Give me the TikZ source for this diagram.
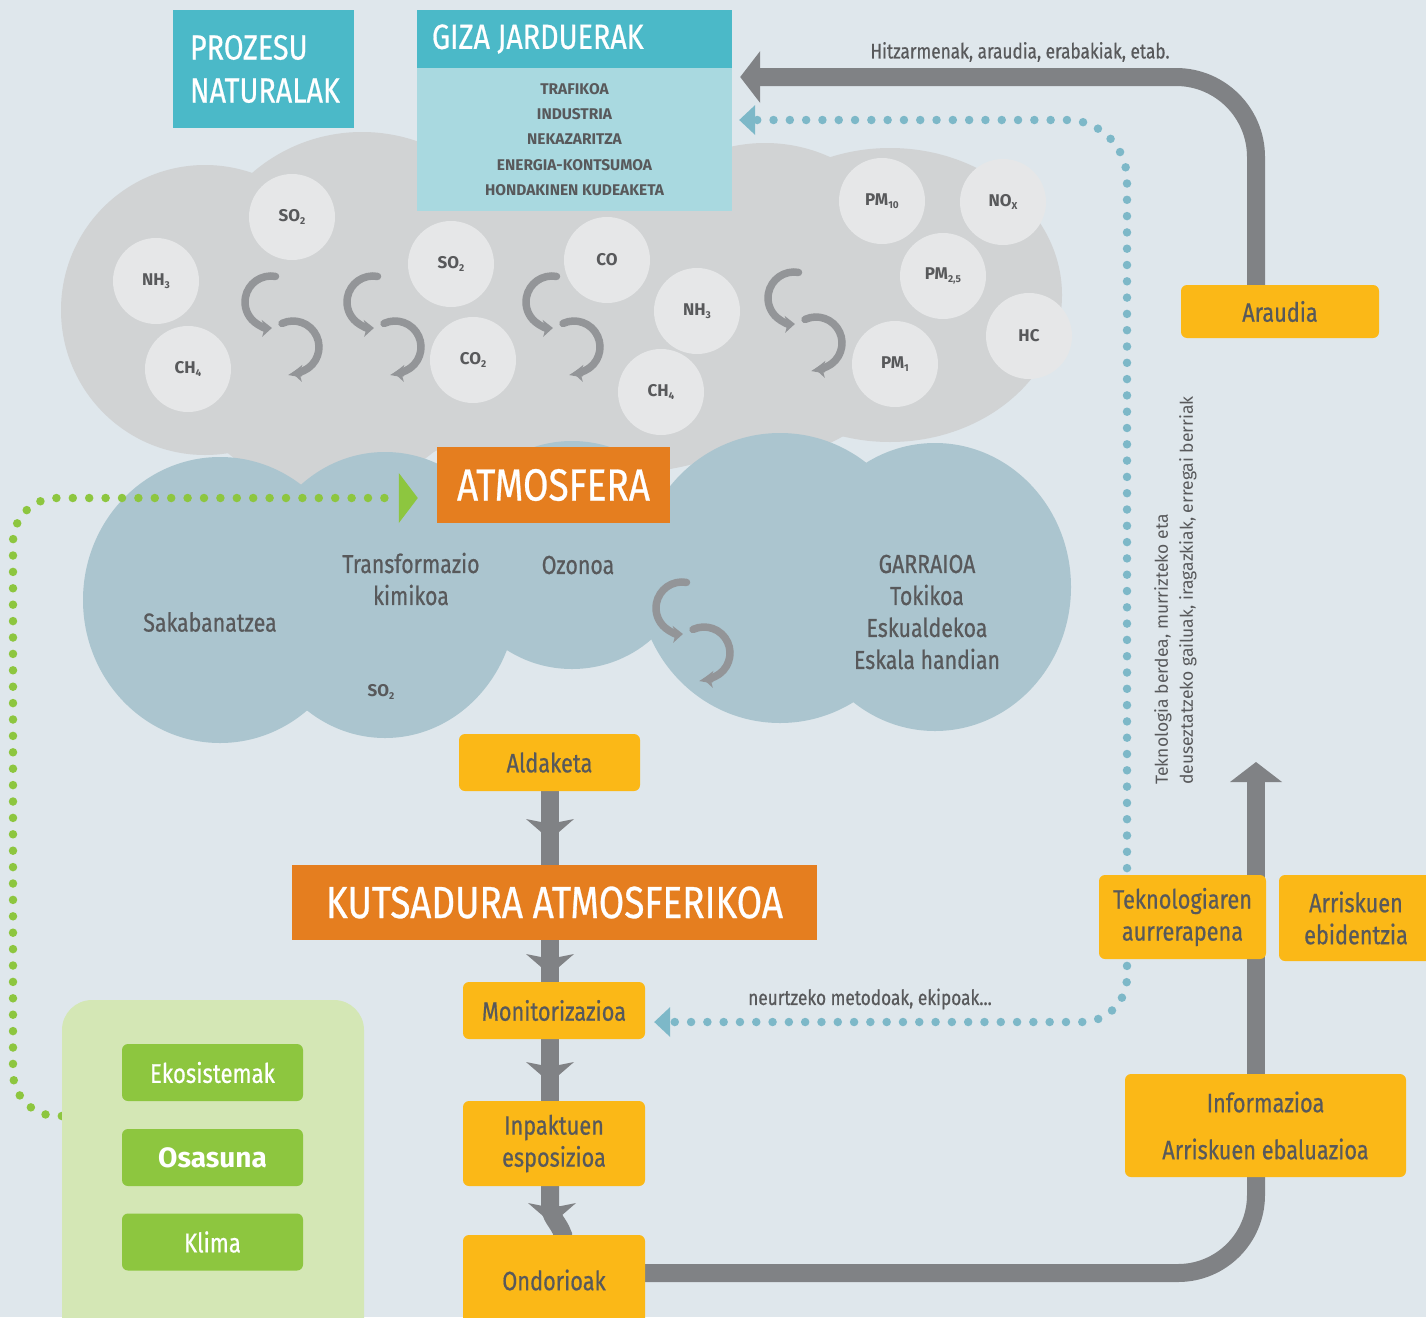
\documentclass[tikz,border=0pt]{standalone}
\usepackage{fontspec}
\setmainfont{Fira Sans}
\newfontfamily\cond{Fira Sans}[FakeStretch=0.82,FakeBold=0.6]
\usetikzlibrary{arrows.meta,calc}
\definecolor{bgc}{HTML}{DFE7EC}
\definecolor{cgray}{HTML}{D1D3D4}
\definecolor{molc}{HTML}{E6E7E8}
\definecolor{tealc}{HTML}{4BB9C8}
\definecolor{lteal}{HTML}{A9D9E0}
\definecolor{cblue}{HTML}{ABC5CF}
\definecolor{org}{HTML}{E57E1F}
\definecolor{yel}{HTML}{FBB817}
\definecolor{txt}{HTML}{58595B}
\definecolor{arg}{HTML}{808285}
\definecolor{swg}{HTML}{939598}
\definecolor{dblue}{HTML}{7DB8C8}
\definecolor{dgreen}{HTML}{8DC63F}
\definecolor{grn}{HTML}{8DC63F}
\definecolor{lgrn}{HTML}{D4E7B5}
\newcommand\chsub[1]{\raisebox{-3.5pt}{\fontsize{10}{10}\selectfont #1}}
\pgfdeclarelayer{clouds}
\pgfdeclarelayer{links}
\pgfsetlayers{clouds,links,main}
\tikzset{
  molec/.style={circle,fill=molc,minimum size=86pt,inner sep=0pt,text=txt,font=\bfseries\fontsize{17}{20}\selectfont},
  ybox/.style={rectangle,rounded corners=6pt,fill=yel,text=txt,inner sep=0pt,align=center,font=\cond\fontsize{26.5}{32}\selectfont},
  gbox/.style={rectangle,rounded corners=6pt,fill=grn,text=white,inner sep=0pt,minimum width=181pt,minimum height=57pt,font=\cond\fontsize{27}{30}\selectfont},
  obox/.style={rectangle,fill=org,text=white,inner sep=0pt,font=\cond\fontsize{45}{50}\selectfont},
  cloudtxt/.style={text=txt,align=center,inner sep=0pt,font=\cond\fontsize{26}{32}\selectfont},
  lbltxt/.style={text=txt,inner sep=0pt,font=\cond\fontsize{21}{24}\selectfont},
  swirlline/.style={draw=swg,line width=7.5pt,line cap=round,-{Stealth[length=10pt,width=17pt,inset=2.5pt,line width=0pt]}},
  bigline/.style={draw=arg,line width=18pt},
  bigtip/.style={-{Triangle[length=20pt,width=52pt,line width=0pt]}},
  bluedots/.style={draw=dblue,line width=8.5pt,line cap=round,dash pattern=on 0pt off 16.3pt},
  greendots/.style={draw=dgreen,line width=8.5pt,line cap=round,dash pattern=on 0pt off 16.4pt},
  swirl/.pic={
    \draw[swirlline] ($(-9,-22)+(-80:26)$) arc[start angle=-80,end angle=-272,radius=26];
    \draw[swirlline] ($(13,23)+(-115:26)$) arc[start angle=-115,end angle=92,radius=26];
  },
  chev/.pic={
    \fill[arg] (-24,-6) -- (-9,-3) -- (9,-3) -- (24,-6) -- (9,7) -- (-9,7) -- cycle;
  }
}
\begin{document}
\begin{tikzpicture}[x=1pt,y=-1pt]
\useasboundingbox (0,0) rectangle (1426,1317);
\begin{pgfonlayer}{clouds}
\fill[bgc] (0,0) rectangle (1426,1317);
% grey cloud
\fill[cgray] (205,310) ellipse[x radius=144,y radius=145];
\fill[cgray] (362,300) circle[radius=168];
\fill[cgray] (330,330) circle[radius=160];
\fill[cgray] (560,310) ellipse[x radius=210,y radius=165];
\fill[cgray] (765,300) circle[radius=157];
\fill[cgray] (890,295) ellipse[x radius=172,y radius=147];
\fill[cgray] (600,380) ellipse[x radius=200,y radius=95];
% blue cloud
\fill[cblue] (220,600) ellipse[x radius=137,y radius=143];
\fill[cblue] (385,595) ellipse[x radius=132,y radius=143];
\fill[cblue] (572,555) ellipse[x radius=118,y radius=114];
\fill[cblue] (780,578) ellipse[x radius=142,y radius=145];
\fill[cblue] (935,587) ellipse[x radius=136,y radius=144];
\end{pgfonlayer}

% molecules
\node[molec] (m1) at (292,217) {SO\chsub{2}};
\node[molec] (m2) at (156,281) {NH\chsub{3}};
\node[molec] (m3) at (188,369) {CH\chsub{4}};
\node[molec] (m4) at (451,264) {SO\chsub{2}};
\node[molec] (m5) at (607,260) {CO};
\node[molec] (m6) at (473,360) {CO\chsub{2}};
\node[molec] (m7) at (697,311) {NH\chsub{3}};
\node[molec] (m8) at (661,392) {CH\chsub{4}};
\node[molec] (m9) at (882,201) {PM\chsub{10}};
\node[molec] (m10) at (1003,202) {NO\chsub{X}};
\node[molec] (m11) at (943,276) {PM\chsub{2,5}};
\node[molec] (m12) at (1029,336) {HC};
\node[molec] (m13) at (895,364) {PM\chsub{1}};

\pic at (280,324) {swirl};
\pic at (382,324) {swirl};
\pic at (561,324) {swirl};
\pic at (803,320) {swirl};
\pic at (691,630) {swirl};

% top boxes
\node[fill=tealc,minimum width=181pt,minimum height=118pt,inner sep=0pt,text=white,text width=147pt,align=flush left,font=\cond\fontsize{35}{43}\selectfont] (proz) at (263.5,69) {PROZESU\\NATURALAK};
\node[fill=tealc,minimum width=315pt,minimum height=58pt,inner sep=0pt,text=white,text width=285pt,align=flush left,font=\cond\fontsize{35}{40}\selectfont] (gizah) at (574.5,39) {GIZA JARDUERAK};
\node[fill=lteal,minimum width=315pt,minimum height=143pt,inner sep=0pt,text=txt,align=center,font=\bfseries\fontsize{15.5}{25.3}\selectfont] (gizab) at (574.5,139.5) {TRAFIKOA\\INDUSTRIA\\NEKAZARITZA\\ENERGIA-KONTSUMOA\\HONDAKINEN KUDEAKETA};

% cloud texts
\node[cloudtxt] (sak) at (210,622) {Sakabanatzea};
\node[cloudtxt] (trans) at (411,579) {Transformazio\\kimikoa};
\node[cloudtxt] (ozon) at (578,565) {Ozonoa};
\node[text=txt,inner sep=0pt,font=\bfseries\fontsize{17}{20}\selectfont] (so2b) at (381,692) {SO\chsub{2}};
\node[cloudtxt] (garr) at (927,612) {GARRAIOA\\Tokikoa\\Eskualdekoa\\Eskala handian};

% orange boxes
\node[obox,minimum width=233pt,minimum height=76pt] (atmos) at (553.5,485) {ATMOSFERA};
\node[obox,minimum width=525pt,minimum height=75pt] (kuts) at (554.5,902.5) {KUTSADURA ATMOSFERIKOA};

% yellow boxes
\node[ybox,minimum width=181pt,minimum height=57pt] (ald) at (549.5,762.5) {Aldaketa};
\node[ybox,minimum width=182pt,minimum height=57pt] (monit) at (554,1010.5) {Monitorizazioa};
\node[ybox,minimum width=182pt,minimum height=85pt] (inpakt) at (554,1143.5) {Inpaktuen\\esposizioa};
\node[ybox,minimum width=182pt,minimum height=90pt] (ondor) at (554,1280) {Ondorioak};
\node[ybox,minimum width=198pt,minimum height=53pt] (araudia) at (1280,311.5) {Araudia};
\node[ybox,minimum width=167pt,minimum height=84pt] (tekno) at (1182.5,917) {Teknologiaren\\aurrerapena};
\node[ybox,minimum width=154pt,minimum height=86pt] (arrisk) at (1356,918) {Arriskuen\\ebidentzia};
\node[ybox,minimum width=281pt,minimum height=103pt,font=\cond\fontsize{26.5}{47}\selectfont] (info) at (1265.5,1125.5) {Informazioa\\Arriskuen ebaluazioa};

% green group
\node[fill=lgrn,rounded corners=30pt,minimum width=302pt,minimum height=350pt,inner sep=0pt] (greenbg) at (213,1175) {};
\node[gbox] (ekos) at (212.5,1072.5) {Ekosistemak};
\node[gbox,font=\bfseries\fontsize{28}{30}\selectfont] (osas) at (212.5,1157.5) {Osasuna};
\node[gbox] (klima) at (212.5,1242) {Klima};

% labels
\node[lbltxt] (hitzlbl) at (1020,52) {Hitzarmenak, araudia, erabakiak, etab.};
\node[lbltxt] (neurlbl) at (870,999) {neurtzeko metodoak, ekipoak...};
\node[rotate=90,anchor=west,inner sep=0pt,text=txt,font=\fontsize{17.5}{20}\selectfont] (vt1) at (1163,785) {Teknologia berdea, murrizteko eta};
\node[rotate=90,anchor=west,inner sep=0pt,text=txt,font=\fontsize{17.5}{20}\selectfont] (vt2) at (1188,785) {deuseztatzeko gailuak, iragazkiak, erregai berriak};

% connectors
\begin{pgfonlayer}{links}
\coordinate (spine) at (1256,0);
\coordinate (chainx) at (550,0);
\coordinate (cx2) at (563,0);
\coordinate (bluex) at (1127,0);
\coordinate (hitztip) at ($(gizah.east)+(8,38)$);
\coordinate (uptip) at (1256,762);
\coordinate (btip1) at ($(gizab.east)+(7,-19.5)$);
\coordinate (btip2) at ($(monit.east)+(9,11.5)$);
\coordinate (gstart) at (greenbg.west |- 0,1116);
\coordinate (gcorner) at (13,498);
\coordinate (gtip) at ($(atmos.west)+(-19,13)$);

\draw[bluedots,-{Triangle[length=16pt,width=30pt,line width=0pt]},rounded corners=60pt] (tekno -| bluex) |- (btip1);
\draw[bluedots,-{Triangle[length=16pt,width=30pt,line width=0pt]},rounded corners=45pt] (tekno -| bluex) |- (btip2);
\draw[greendots,-{Triangle[length=19pt,width=50pt,line width=0pt]},rounded corners=44pt] (gstart) -| (gcorner) -- (gtip);

\draw[bigline,bigtip,rounded corners=80pt] (spine |- araudia) |- (hitztip);
\draw[bigline,bigtip] (spine |- info) -- (uptip);
\draw[bigline,rounded corners=78pt] (ondor |- 0,1273) -| (spine |- info);

\draw[bigline] (ald -| chainx) -- (kuts -| chainx);
\draw[bigline] (kuts -| chainx) -- (monit -| chainx);
\draw[bigline] (monit -| chainx) -- (inpakt -| chainx);
\draw[bigline] (inpakt -| chainx) -- (inpakt.south -| chainx) -- ++(0,18) .. controls +(0,14) and +(-5,-14) .. (ondor.north -| cx2) -- (ondor -| cx2);
\pic at (550,825) {chev};
\pic at (550,960) {chev};
\pic at (550,1068) {chev};
\pic at (552,1209) {chev};
\end{pgfonlayer}
\end{tikzpicture}
\end{document}
